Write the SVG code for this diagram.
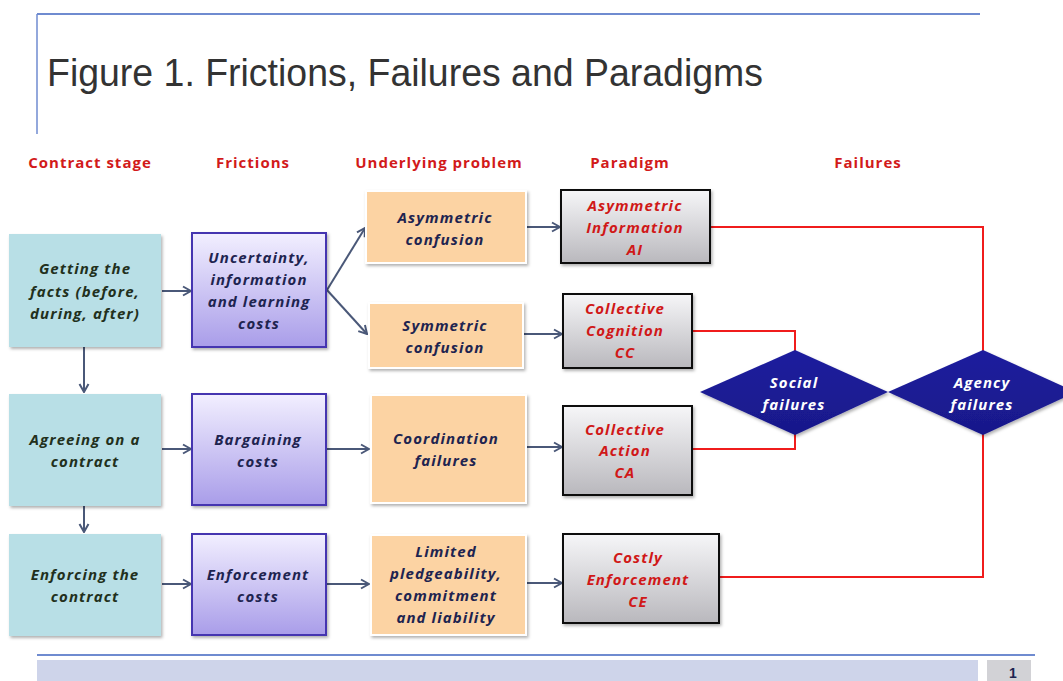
<svg xmlns="http://www.w3.org/2000/svg" width="1063" height="681" viewBox="0 0 1063 681">
<defs>
  <linearGradient id="gPurple" x1="0" y1="0" x2="0" y2="1">
    <stop offset="0" stop-color="#f2efff"/>
    <stop offset="1" stop-color="#a99de9"/>
  </linearGradient>
  <linearGradient id="gGrey" x1="0" y1="0" x2="0" y2="1">
    <stop offset="0" stop-color="#f6f6f8"/>
    <stop offset="1" stop-color="#b9b8bd"/>
  </linearGradient>
  <linearGradient id="gNavy" x1="0" y1="0" x2="0" y2="1">
    <stop offset="0" stop-color="#1f1f9e"/>
    <stop offset="1" stop-color="#18188a"/>
  </linearGradient>
  <filter id="sh" x="-10%" y="-10%" width="125%" height="125%">
    <feDropShadow dx="1.5" dy="2" stdDeviation="1.5" flood-color="#000" flood-opacity="0.3"/>
  </filter>
  <marker id="ar" viewBox="0 0 12 12" refX="11" refY="6" markerWidth="12" markerHeight="12" markerUnits="userSpaceOnUse" orient="auto">
    <polyline points="3,1.5 11,6 3,10.5" fill="none" stroke="#4a5878" stroke-width="2"/>
  </marker>
  <style>
    .t { font-family: "Open Sans", "Liberation Sans", sans-serif; font-style: italic; font-weight: bold; font-size: 15px; letter-spacing: 1.1px; text-anchor: middle; dominant-baseline: central; }
    .hdr { font-family: "Open Sans", "Liberation Sans", sans-serif; font-weight: bold; font-size: 15px; letter-spacing: 1px; fill: #d21a1a; text-anchor: middle; dominant-baseline: central; }
    .stage { fill: #b8dfe6; filter: url(#sh); }
    .fric { fill: url(#gPurple); stroke: #4534b0; stroke-width: 2; filter: url(#sh); }
    .prob { fill: #fcd3a3; stroke: #ffffff; stroke-width: 2; filter: url(#sh); }
    .para { fill: url(#gGrey); stroke: #111; stroke-width: 2; filter: url(#sh); }
    .dia { fill: url(#gNavy); filter: url(#sh); }
    .green { fill: #22301c; }
    .navy { fill: #1e2450; }
    .red { fill: #d01818; }
    .white { fill: #ffffff; }
    .arrow { stroke: #4a5878; stroke-width: 2; fill: none; marker-end: url(#ar); }
    .rline { stroke: #f01c1c; stroke-width: 2; fill: none; }
  </style>
</defs>

<rect x="0" y="0" width="1063" height="681" fill="#ffffff"/>

<!-- title frame -->
<g id="title">
  <line x1="37" y1="14" x2="980" y2="14" stroke="#6f8bd0" stroke-width="2"/>
  <line x1="37" y1="14" x2="37" y2="134" stroke="#6f8bd0" stroke-width="1.5"/>
  <text x="47" y="86" font-family="'Liberation Sans', sans-serif" font-size="38" fill="#333333" textLength="716" lengthAdjust="spacingAndGlyphs">Figure 1. Frictions, Failures and Paradigms</text>
</g>

<!-- headers -->
<g id="headers">
  <text class="hdr" x="90" y="162">Contract stage</text>
  <text class="hdr" x="253" y="162">Frictions</text>
  <text class="hdr" x="439" y="162">Underlying problem</text>
  <text class="hdr" x="630" y="162">Paradigm</text>
  <text class="hdr" x="868" y="162">Failures</text>
</g>

<!-- connectors -->
<g id="connectors">
  <line class="arrow" x1="162" y1="291" x2="191" y2="291"/>
  <line class="arrow" x1="84" y1="347" x2="84" y2="392"/>
  <line class="arrow" x1="84" y1="506" x2="84" y2="532"/>
  <line class="arrow" x1="162" y1="449" x2="191" y2="449"/>
  <line class="arrow" x1="162" y1="584" x2="191" y2="584"/>
  <line class="arrow" x1="327" y1="290" x2="365" y2="228"/>
  <line class="arrow" x1="327" y1="290" x2="367" y2="334"/>
  <line class="arrow" x1="327" y1="449" x2="369" y2="449"/>
  <line class="arrow" x1="327" y1="584" x2="369" y2="584"/>
  <line class="arrow" x1="527" y1="227" x2="560" y2="227"/>
  <line class="arrow" x1="524" y1="334" x2="562" y2="334"/>
  <line class="arrow" x1="524" y1="447" x2="562" y2="447"/>
  <line class="arrow" x1="527" y1="583" x2="562" y2="583"/>
  <polyline class="rline" points="711,227 983,227 983,351"/>
  <polyline class="rline" points="693,331 795,331 795,351"/>
  <polyline class="rline" points="693,449 795,449 795,434"/>
  <polyline class="rline" points="720,577 983,577 983,434"/>
</g>

<!-- contract stage -->
<g id="stage-facts">
  <rect class="stage" x="9" y="234" width="152" height="113"/>
  <text class="t green" x="85" y="268">Getting the</text>
  <text class="t green" x="85" y="291">facts (before,</text>
  <text class="t green" x="85" y="313">during, after)</text>
</g>
<g id="stage-agree">
  <rect class="stage" x="9" y="394" width="152" height="112"/>
  <text class="t green" x="85" y="439">Agreeing on a</text>
  <text class="t green" x="85" y="461">contract</text>
</g>
<g id="stage-enforce">
  <rect class="stage" x="9" y="534" width="152" height="102"/>
  <text class="t green" x="85" y="574">Enforcing the</text>
  <text class="t green" x="85" y="596">contract</text>
</g>

<!-- frictions -->
<g id="fric-uncertainty">
  <rect class="fric" x="192" y="233" width="134" height="114"/>
  <text class="t navy" x="259" y="257">Uncertainty,</text>
  <text class="t navy" x="259" y="279">information</text>
  <text class="t navy" x="259" y="301">and learning</text>
  <text class="t navy" x="259" y="323">costs</text>
</g>
<g id="fric-bargaining">
  <rect class="fric" x="192" y="394" width="134" height="111"/>
  <text class="t navy" x="258" y="439">Bargaining</text>
  <text class="t navy" x="258" y="461">costs</text>
</g>
<g id="fric-enforcement">
  <rect class="fric" x="192" y="534" width="134" height="101"/>
  <text class="t navy" x="258" y="574">Enforcement</text>
  <text class="t navy" x="258" y="596">costs</text>
</g>

<!-- underlying problems -->
<g id="prob-asym">
  <rect class="prob" x="366" y="191" width="160" height="72"/>
  <text class="t navy" x="445" y="217">Asymmetric</text>
  <text class="t navy" x="445" y="239">confusion</text>
</g>
<g id="prob-sym">
  <rect class="prob" x="369" y="303" width="154" height="65"/>
  <text class="t navy" x="445" y="325">Symmetric</text>
  <text class="t navy" x="445" y="347">confusion</text>
</g>
<g id="prob-coord">
  <rect class="prob" x="371" y="395" width="155" height="108"/>
  <text class="t navy" x="446" y="438">Coordination</text>
  <text class="t navy" x="446" y="460">failures</text>
</g>
<g id="prob-limited">
  <rect class="prob" x="371" y="535" width="155" height="100"/>
  <text class="t navy" x="446" y="551">Limited</text>
  <text class="t navy" x="446" y="573">pledgeability,</text>
  <text class="t navy" x="446" y="595">commitment</text>
  <text class="t navy" x="446" y="617">and liability</text>
</g>

<!-- paradigms -->
<g id="para-ai">
  <rect class="para" x="561" y="190" width="149" height="73"/>
  <text class="t red" x="635" y="205">Asymmetric</text>
  <text class="t red" x="635" y="227">Information</text>
  <text class="t red" x="635" y="249">AI</text>
</g>
<g id="para-cc">
  <rect class="para" x="563" y="294" width="129" height="74"/>
  <text class="t red" x="625" y="308">Collective</text>
  <text class="t red" x="625" y="330">Cognition</text>
  <text class="t red" x="625" y="352">CC</text>
</g>
<g id="para-ca">
  <rect class="para" x="563" y="406" width="129" height="89"/>
  <text class="t red" x="625" y="429">Collective</text>
  <text class="t red" x="625" y="450">Action</text>
  <text class="t red" x="625" y="472">CA</text>
</g>
<g id="para-ce">
  <rect class="para" x="563" y="534" width="156" height="89"/>
  <text class="t red" x="638" y="557">Costly</text>
  <text class="t red" x="638" y="579">Enforcement</text>
  <text class="t red" x="638" y="601">CE</text>
</g>

<!-- failures -->
<g id="fail-social">
  <polygon class="dia" points="700,392 795,350 888,392 795,435"/>
  <text class="t white" x="794" y="382">Social</text>
  <text class="t white" x="794" y="404">failures</text>
</g>
<g id="fail-agency">
  <polygon class="dia" points="888,392 983,350 1076,392 983,435"/>
  <text class="t white" x="982" y="382">Agency</text>
  <text class="t white" x="982" y="404">failures</text>
</g>

<!-- footer -->
<g id="footer">
  <line x1="37" y1="655" x2="1035" y2="655" stroke="#6f8bd0" stroke-width="2"/>
  <rect x="37" y="660" width="941" height="21" fill="#ced4ea"/>
  <rect x="987" y="660" width="44" height="21" fill="#d2d2d6"/>
  <text x="1013" y="678" font-family="'Liberation Sans', sans-serif" font-size="14" font-weight="bold" fill="#1e2450" text-anchor="middle">1</text>
</g>
</svg>
